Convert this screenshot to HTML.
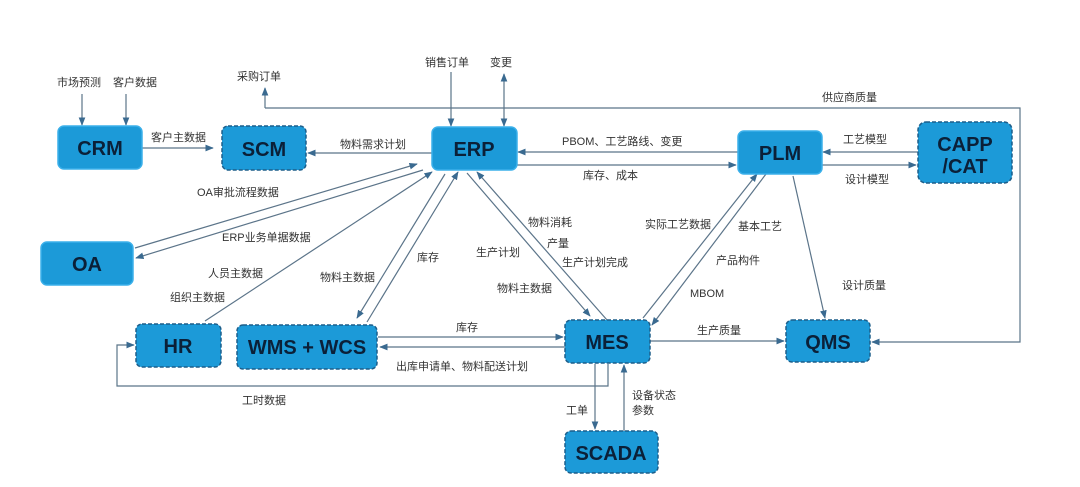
<!DOCTYPE html>
<html><head><meta charset="utf-8"><style>
html,body{margin:0;padding:0;background:#fff;}
svg{display:block;}
text{font-family:"Liberation Sans","Noto Sans CJK SC",sans-serif;}
.l{font-size:11px;fill:#333;}
.b{font-size:20px;font-weight:bold;fill:#0b2038;text-anchor:middle;}
.ln{stroke:#5b7489;stroke-width:1.2;fill:none;}
.bx{fill:#1c9ad8;stroke:#3bb0ea;stroke-width:1.5;}
.dx{fill:#1c9ad8;stroke:#1d5e8a;stroke-width:1.5;stroke-dasharray:4 2;}
</style></head><body>
<svg width="1080" height="487" viewBox="0 0 1080 487" xmlns="http://www.w3.org/2000/svg">
<defs><marker id="a" viewBox="0 0 10 10" refX="9" refY="5" markerWidth="7" markerHeight="7" orient="auto-start-reverse"><path d="M0,1 L10,5 L0,9 z" fill="#3a6a90"/></marker></defs>
<g class="ln" marker-end="url(#a)">
<line x1="82" y1="94" x2="82" y2="125"/>
<line x1="126" y1="94" x2="126" y2="125"/>
<line x1="142" y1="148" x2="213" y2="148"/>
<line x1="265" y1="108" x2="265" y2="88"/>
<line x1="432" y1="153" x2="308" y2="153"/>
<line x1="451" y1="72" x2="451" y2="126"/>
<line x1="504" y1="108" x2="504" y2="126"/>
<line x1="504" y1="108" x2="504" y2="74"/>
<line x1="738" y1="152" x2="518" y2="152"/>
<line x1="517" y1="165" x2="736" y2="165"/>
<line x1="918" y1="152" x2="823" y2="152"/>
<line x1="822" y1="165" x2="916" y2="165"/>
<line x1="135" y1="248" x2="417" y2="164"/>
<line x1="423" y1="170" x2="136" y2="258"/>
<line x1="205" y1="321" x2="432" y2="172"/>
<line x1="445" y1="174" x2="357" y2="318"/>
<line x1="367" y1="322" x2="458" y2="172"/>
<line x1="467" y1="173" x2="590" y2="316"/>
<line x1="607" y1="320" x2="477" y2="172"/>
<line x1="643" y1="318" x2="757" y2="174"/>
<line x1="766" y1="174" x2="652" y2="325"/>
<line x1="793" y1="176" x2="825" y2="318"/>
<line x1="650" y1="341" x2="784" y2="341"/>
<line x1="378" y1="337" x2="563" y2="337"/>
<line x1="565" y1="347" x2="380" y2="347"/>
<line x1="595" y1="364" x2="595" y2="429"/>
<line x1="624" y1="431" x2="624" y2="365"/>
<polyline points="608,364 608,386 117,386 117,345 134,345"/>
<polyline points="265,108 1020,108 1020,342 872,342"/>
</g>
<rect class="bx" x="58" y="126" width="84" height="43" rx="6"/>
<rect class="dx" x="222" y="126" width="84" height="44" rx="6"/>
<rect class="bx" x="432" y="127" width="85" height="43" rx="6"/>
<rect class="bx" x="738" y="131" width="84" height="43" rx="6"/>
<rect class="dx" x="918" y="122" width="94" height="61" rx="8"/>
<rect class="bx" x="41" y="242" width="92" height="43" rx="6"/>
<rect class="dx" x="136" y="324" width="85" height="43" rx="6"/>
<rect class="dx" x="237" y="325" width="140" height="44" rx="6"/>
<rect class="dx" x="565" y="320" width="85" height="43" rx="6"/>
<rect class="dx" x="786" y="320" width="84" height="42" rx="6"/>
<rect class="dx" x="565" y="431" width="93" height="42" rx="6"/>
<text class="b" x="100" y="155">CRM</text>
<text class="b" x="264" y="156">SCM</text>
<text class="b" x="474" y="156">ERP</text>
<text class="b" x="780" y="160">PLM</text>
<text class="b" x="965" y="151">CAPP</text>
<text class="b" x="965" y="173">/CAT</text>
<text class="b" x="87" y="271">OA</text>
<text class="b" x="178" y="353">HR</text>
<text class="b" x="307" y="354">WMS + WCS</text>
<text class="b" x="607" y="349">MES</text>
<text class="b" x="828" y="349">QMS</text>
<text class="b" x="611" y="460">SCADA</text>
<g class="l">
<text x="57" y="86">市场预测</text>
<text x="113" y="86">客户数据</text>
<text x="237" y="80">采购订单</text>
<text x="425" y="66">销售订单</text>
<text x="490" y="66">变更</text>
<text x="822" y="101">供应商质量</text>
<text x="151" y="141">客户主数据</text>
<text x="340" y="148">物料需求计划</text>
<text x="562" y="145">PBOM、工艺路线、变更</text>
<text x="583" y="179">库存、成本</text>
<text x="843" y="143">工艺模型</text>
<text x="845" y="183">设计模型</text>
<text x="197" y="196">OA审批流程数据</text>
<text x="222" y="241">ERP业务单据数据</text>
<text x="208" y="277">人员主数据</text>
<text x="170" y="301">组织主数据</text>
<text x="320" y="281">物料主数据</text>
<text x="417" y="261">库存</text>
<text x="476" y="256">生产计划</text>
<text x="497" y="292">物料主数据</text>
<text x="528" y="226">物料消耗</text>
<text x="547" y="247">产量</text>
<text x="562" y="266">生产计划完成</text>
<text x="645" y="228">实际工艺数据</text>
<text x="738" y="230">基本工艺</text>
<text x="716" y="264">产品构件</text>
<text x="690" y="297">MBOM</text>
<text x="842" y="289">设计质量</text>
<text x="697" y="334">生产质量</text>
<text x="456" y="331">库存</text>
<text x="396" y="370">出库申请单、物料配送计划</text>
<text x="242" y="404">工时数据</text>
<text x="566" y="414">工单</text>
<text x="632" y="399">设备状态</text>
<text x="632" y="414">参数</text>
</g>
</svg>
</body></html>
